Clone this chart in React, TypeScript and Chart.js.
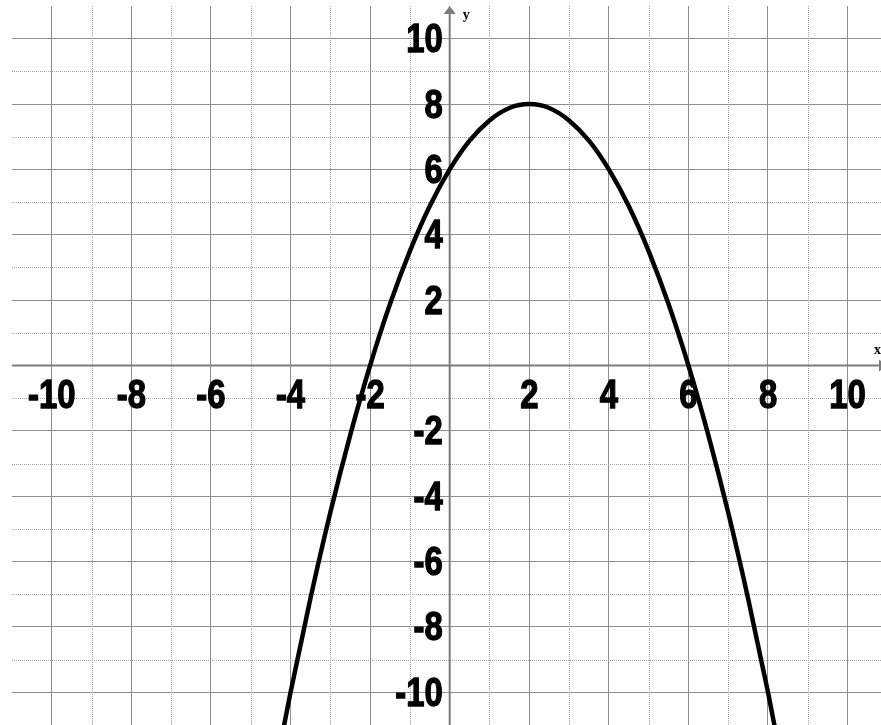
import React, { useEffect, useRef } from "react";
import { Chart, registerables } from "chart.js";

Chart.register(...registerables);

// Points
const xValues = [-4.5, -4, -3.5, -3, -2.5, -2, -1.5, -1, -0.5, 0, 0.5, 1, 1.5, 2, 2.5, 3, 3.5, 4, 4.5, 5, 5.5, 6, 6.5, 7, 7.5, 8, 8.5];
const yValues = [-13.13, -10, -7.13, -4.5, -2.13, 0, 1.88, 3.5, 4.88, 6, 6.88, 7.5, 7.88, 8, 7.88, 7.5, 6.88, 6, 4.88, 3.5, 1.88, 0, -2.13, -4.5, -7.13, -10, -13.13];

// Tick labels
const xTickLabels = [-10, -8, -6, -4, -2, 2, 4, 6, 8, 10];
const yTickLabels = [10, 8, 6, 4, 2, -2, -4, -6, -8, -10];

const LABEL_FONT = "bold 40px 'Liberation Sans', Arial, sans-serif";
const NARROW = 0.82;
const AXIS_NAME_FONT = "bold 14px 'Liberation Serif', 'DejaVu Serif', serif";

export default function App() {
  const ref = useRef<HTMLCanvasElement>(null);

  useEffect(() => {
    document.body.style.margin = "0";
    const canvas = ref.current;
    if (!canvas) return;

    const narrowText = (ctx: CanvasRenderingContext2D, text: string, px: number, py: number) => {
      ctx.save();
      ctx.translate(px, py);
      ctx.scale(NARROW, 1);
      ctx.fillText(text, 0, 0);
      ctx.lineWidth = 1.3;
      ctx.strokeStyle = "#000";
      ctx.strokeText(text, 0, 0);
      ctx.restore();
    };

    const graphPaper = {
      id: "graphPaper",
      beforeDatasetsDraw(chart: any) {
        const { ctx, chartArea: a } = chart;
        const xs = chart.scales.x;
        const ys = chart.scales.y;
        ctx.save();

        // dotted minor grid (odd ticks)
        ctx.strokeStyle = "#a3a3a3";
        ctx.lineWidth = 1;
        ctx.setLineDash([1, 1]);
        xs.ticks.forEach((t: any) => {
          if (Math.abs(t.value % 2) !== 1 || Math.abs(t.value) > 10) return;
          const px = Math.round(xs.getPixelForValue(t.value)) + 0.5;
          ctx.beginPath();
          ctx.moveTo(px, a.top);
          ctx.lineTo(px, a.bottom);
          ctx.stroke();
        });
        ys.ticks.forEach((t: any) => {
          if (Math.abs(t.value % 2) !== 1 || Math.abs(t.value) > 10) return;
          const py = Math.round(ys.getPixelForValue(t.value)) + 0.5;
          ctx.beginPath();
          ctx.moveTo(a.left, py);
          ctx.lineTo(a.right, py);
          ctx.stroke();
        });
        ctx.setLineDash([]);

        // axes
        const x0 = xs.getPixelForValue(0);
        const y0 = ys.getPixelForValue(0);
        ctx.strokeStyle = "#7c7c7c";
        ctx.fillStyle = "#7c7c7c";
        ctx.lineWidth = 2;
        ctx.beginPath();
        ctx.moveTo(x0, a.bottom);
        ctx.lineTo(x0, a.top + 6);
        ctx.moveTo(a.left, y0);
        ctx.lineTo(a.right - 2, y0);
        ctx.stroke();
        // arrows
        ctx.beginPath();
        ctx.moveTo(x0, a.top);
        ctx.lineTo(x0 - 6, a.top + 8);
        ctx.lineTo(x0 + 6, a.top + 8);
        ctx.closePath();
        ctx.fill();
        ctx.beginPath();
        ctx.moveTo(a.right + 6, y0);
        ctx.lineTo(a.right - 2, y0 - 6);
        ctx.lineTo(a.right - 2, y0 + 6);
        ctx.closePath();
        ctx.fill();

        // axis names
        ctx.fillStyle = "#000";
        ctx.font = AXIS_NAME_FONT;
        ctx.textAlign = "left";
        ctx.textBaseline = "alphabetic";
        ctx.fillText("y", x0 + 13, a.top + 13);
        ctx.fillText("x", a.right - 7, y0 - 12);

        // tick labels
        ctx.font = LABEL_FONT;
        ctx.textAlign = "center";
        xTickLabels.forEach((v) => {
          narrowText(ctx, String(v), xs.getPixelForValue(v), y0 + 42);
        });
        ctx.textAlign = "right";
        yTickLabels.forEach((v) => {
          narrowText(ctx, String(v), x0 - 7, ys.getPixelForValue(v) + 13.5);
        });
        ctx.restore();
      },
    };

    const majorColor = (c: any) =>
      c.tick && Math.abs(c.tick.value % 2) === 0 ? "#8e8e8e" : "rgba(0,0,0,0)";

    const chart = new Chart(canvas, {
      type: "scatter",
      data: {
        datasets: [
          {
            data: xValues.map((x, i) => ({ x, y: yValues[i] })),
            showLine: true,
            borderColor: "#000000",
            borderWidth: 4.5,
            pointRadius: 0,
            cubicInterpolationMode: "monotone",
            fill: false,
          },
        ],
      },
      options: {
        responsive: false,
        animation: false,
        devicePixelRatio: 1,
        events: [],
        layout: { padding: { left: 12, top: 6, right: 0, bottom: 0 } },
        plugins: { legend: { display: false }, tooltip: { enabled: false } },
        scales: {
          x: {
            type: "linear",
            min: -11,
            max: 10.84,
            ticks: { display: false, stepSize: 1, includeBounds: false },
            grid: { drawTicks: false, color: majorColor, lineWidth: 1 },
            border: { display: false },
          },
          y: {
            type: "linear",
            min: -11,
            max: 11,
            ticks: { display: false, stepSize: 1, includeBounds: false },
            grid: { drawTicks: false, color: majorColor, lineWidth: 1 },
            border: { display: false },
          },
        },
      },
      plugins: [graphPaper],
    } as any);

    return () => chart.destroy();
  }, []);

  return <canvas ref={ref} width={881} height={725} style={{ display: "block" }} />;
}
